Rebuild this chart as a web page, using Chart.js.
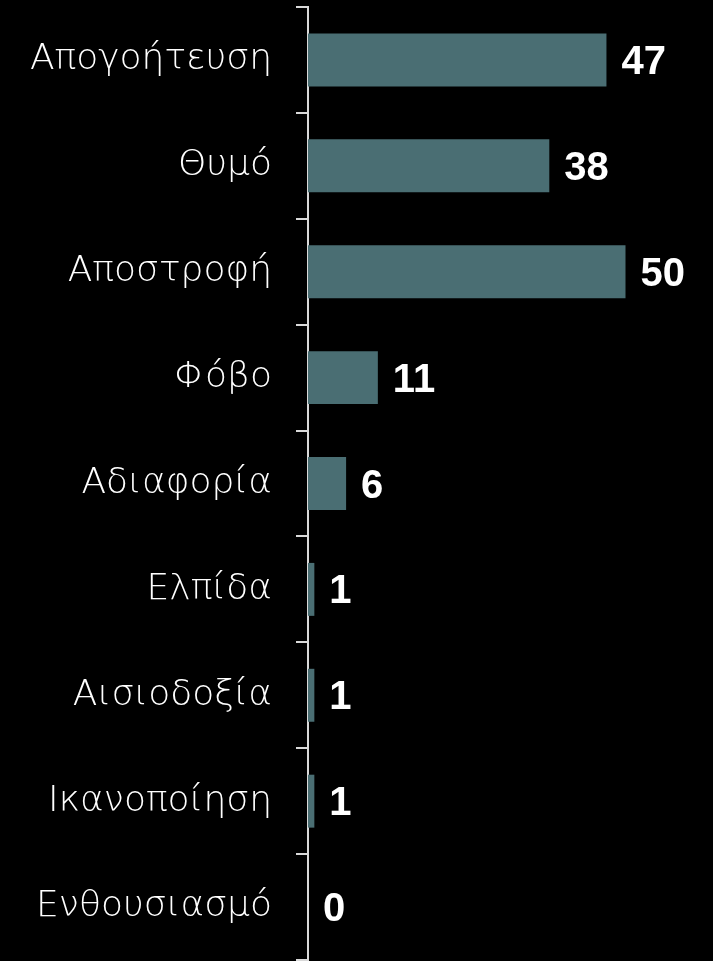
<!DOCTYPE html>
<html><head><meta charset="utf-8">
<script src="https://cdn.jsdelivr.net/npm/chart.js@4"></script>
<style>html,body{margin:0;padding:0;background:#000;}#wrap{width:713px;height:961px;}</style>
</head><body><div id="wrap"><canvas id="c"></canvas></div>
<script>
const categories = ["Απογοήτευση","Θυμό","Αποστροφή","Φόβο","Αδιαφορία","Ελπίδα","Αισιοδοξία","Ικανοποίηση","Ενθουσιασμό"];
const values = [47,38,50,11,6,1,1,1,0];

const valueLabels = {
  id: 'valueLabels',
  afterDatasetsDraw(chart) {
    const ctx = chart.ctx;
    const meta = chart.getDatasetMeta(0);
    ctx.save();
    ctx.fillStyle = '#ffffff';
    ctx.font = 'bold 40px "Liberation Sans", Arial, sans-serif';
    ctx.textAlign = 'left';
    ctx.textBaseline = 'middle';
    meta.data.forEach((bar, i) => {
      ctx.fillText(String(values[i]), bar.x + 15, bar.y + 3);
    });
    ctx.restore();
  }
};

new Chart(document.getElementById('c'), {
  type: 'bar',
  data: {
    labels: categories,
    datasets: [{
      data: values,
      backgroundColor: '#4a6e73',
      borderWidth: 0,
      barPercentage: 0.5,
      categoryPercentage: 1.0
    }]
  },
  options: {
    indexAxis: 'y',
    responsive: true,
    maintainAspectRatio: false,
    animation: false,
    layout: { padding: { top: 7, bottom: 1, right: 24, left: 0 } },
    plugins: { legend: { display: false }, tooltip: { enabled: false } },
    scales: {
      x: { display: false, min: 0, max: 60 },
      y: {
        afterFit(scale) { scale.width = 308; scale.paddingTop = 0; scale.paddingBottom = 0; },
        grid: { display: true, drawOnChartArea: false, drawTicks: true, tickLength: 12, color: '#d9d9d9', lineWidth: 2, offset: true },
        border: { display: true, color: '#d9d9d9', width: 2 },
        ticks: { color: '#ffffff', padding: 24, font: { family: '"DejaVu Sans", sans-serif', size: 36, weight: 300 } }
      }
    }
  },
  plugins: [valueLabels]
});
</script></body></html>
